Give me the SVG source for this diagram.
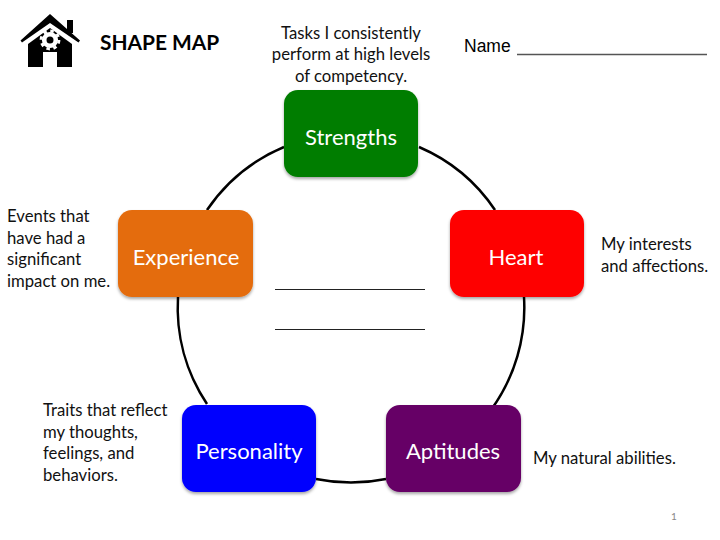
<svg xmlns="http://www.w3.org/2000/svg" width="720" height="540" viewBox="0 0 720 540">
<defs>
<filter id="sh" x="-10%" y="-10%" width="120%" height="125%"><feDropShadow dx="0" dy="2" stdDeviation="1.5" flood-color="#000" flood-opacity="0.35"/></filter>
</defs>
<style>
.n{filter:url(#sh)}
.l{font:22px Lato,"Open Sans",sans-serif;fill:#fff;text-anchor:middle}
.t{font:16.7px Lato,"Open Sans",sans-serif;fill:#111}
.c{fill:none;stroke:#000;stroke-width:2.5}
.u{stroke:#222;stroke-width:1}
</style>
<rect width="720" height="540" fill="#fff"/>
<g id="connectors">
<path class="c" d="M419 147A174 174 0 0 1 495 210"/>
<path class="c" d="M524 297A174 174 0 0 1 491 410"/>
<path class="c" d="M386 479A174 174 0 0 1 316 479"/>
<path class="c" d="M207 404A174 174 0 0 1 178 297"/>
<path class="c" d="M207 210A174 174 0 0 1 284 147"/>
</g>
<g id="strengths"><rect class="n" x="284" y="90" width="134" height="87" rx="14" fill="#047d04"/><text class="l" x="351" y="145">Strengths</text></g>
<g id="heart"><rect class="n" x="450" y="210" width="134" height="87" rx="14" fill="#fe0000"/><text class="l" x="516" y="265">Heart</text></g>
<g id="aptitudes"><rect class="n" x="386" y="405" width="135" height="87" rx="14" fill="#660066"/><text class="l" x="453" y="459">Aptitudes</text></g>
<g id="personality"><rect class="n" x="182" y="405" width="134" height="87" rx="14" fill="#0000fe"/><text class="l" x="249" y="459">Personality</text></g>
<g id="experience"><rect class="n" x="118" y="210" width="135" height="87" rx="14" fill="#e46c0a"/><text class="l" x="186" y="265">Experience</text></g>
<g id="header">
<path d="M20.500 40.500L50 14L80 40.500L78.500 42.500L50 23L22 42.500Z" fill="#000"/>
<rect x="67" y="20" width="6" height="13" fill="#000"/>
<path d="M28 44L50 28L72 44V67H57V52H43V67H28Z" fill="#000"/>
<circle cx="50" cy="40" r="5.800" fill="none" stroke="#fff" stroke-width="4.600"/>
<circle cx="50" cy="40" r="9" fill="none" stroke="#fff" stroke-width="2.800" stroke-dasharray="3.500 3.570"/>
<text x="100" y="50" style="font:bold 20.900px Lato,'Open Sans',sans-serif;fill:#000">SHAPE MAP</text>
<text x="464" y="52" style="font:17.500px 'Liberation Sans',sans-serif;fill:#000">Name</text>
<line x1="517" y1="54.500" x2="707" y2="54.500" stroke="#555" stroke-width="1.300"/>
</g>
<g id="notes">
<text class="t" text-anchor="middle"><tspan x="351" y="39">Tasks I consistently</tspan><tspan x="351" y="60">perform at high levels</tspan><tspan x="351" y="82">of competency.</tspan></text>
<text class="t"><tspan x="7" y="222">Events that</tspan><tspan x="7" y="244">have had a</tspan><tspan x="7" y="265">significant</tspan><tspan x="7" y="287">impact on me.</tspan></text>
<text class="t"><tspan x="601" y="250">My interests</tspan><tspan x="601" y="272">and affections.</tspan></text>
<text class="t"><tspan x="43" y="416">Traits that reflect</tspan><tspan x="43" y="438">my thoughts,</tspan><tspan x="43" y="459">feelings, and</tspan><tspan x="43" y="481">behaviors.</tspan></text>
<text class="t" x="533" y="464">My natural abilities.</text>
<line class="u" x1="275" y1="289.500" x2="425" y2="289.500"/>
<line class="u" x1="275" y1="329.500" x2="425" y2="329.500"/>
<text x="674" y="520" style="font:10px Lato,sans-serif;fill:#888" text-anchor="middle">1</text>
</g>
</svg>
